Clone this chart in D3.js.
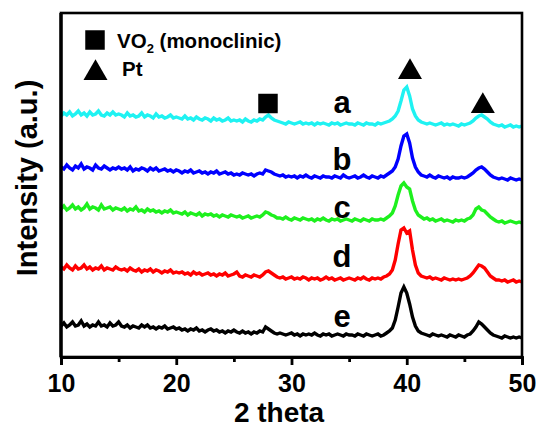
<!DOCTYPE html>
<html>
<head>
<meta charset="utf-8">
<script src="https://cdn.jsdelivr.net/npm/d3@7.9.0/dist/d3.min.js"></script>
<style>
  body { margin: 0; background: #fff; }
  svg text { font-family: "Liberation Sans", Arial, sans-serif; font-weight: bold; }
</style>
</head>
<body>
<svg id="chart" width="538" height="427"></svg>
<script>
// ─── DATA ────────────────────────────────────────────────────────────────────
// 2θ grid: 10 → 50 in 0.25° steps (161 points)
const twoTheta = d3.range(161).map(i => 10 + i * 0.25);

const seriesNames  = ['a', 'b', 'c', 'd', 'e'];
const seriesColors = ['#1ff2f2', '#0000ff', '#1ef01e', '#ff0000', '#000000'];
// vertical offset (a.u.) of each stacked pattern
const seriesOffsets = [230, 177, 134, 75, 19];

// intensity above each pattern's own baseline (a.u.)
const intA = [
  11,14,12,15,11,13,16,12,14,11,15,12,13,16,12,11,14,12,15,12,13,
  12,10,14,11,12,10,11,14,10,12,11,9,13,10,11,9,10,12,9,10,
  9,8,11,8,9,7,10,8,7,9,8,6,9,7,8,6,7,9,6,7,
  6,7,5,8,6,5,7,6,8,7,
  10,12,9,7,6,
  5,4,3,5,4,3,4,5,3,4,3,4,2,4,3,4,3,2,4,3,4,2,3,4,3,
  3,2,4,3,2,4,3,3,2,4,3,4,5,6,8,
  11,16,26,37,40,31,18,11,7,5,
  4,3,4,3,2,3,4,2,3,2,3,2,1,3,2,
  3,4,6,9,11,12,10,8,5,3,2,
  1,2,0,1,2,0,1,0,1
];
const intB = [
  13,11,15,12,10,14,12,16,11,13,12,10,15,12,11,14,12,10,12,11,13,
  11,12,10,13,9,11,10,12,11,9,12,10,12,9,10,11,9,10,8,10,
  9,7,9,8,10,7,8,9,7,8,6,8,7,9,6,7,8,6,7,5,
  6,5,7,6,5,6,4,6,7,6,
  10,9,8,6,5,
  4,5,3,4,3,4,2,4,3,5,3,2,4,3,2,4,3,3,2,4,3,2,5,3,2,
  3,4,2,3,5,3,2,4,3,2,4,3,5,7,9,
  13,21,34,44,46,37,22,13,8,5,
  4,3,5,3,2,4,3,2,3,1,3,2,2,3,2,
  3,5,7,10,12,13,11,8,5,3,2,
  1,2,1,0,2,1,0,1,0
];
const intC = [
  14,17,13,15,18,14,16,13,15,19,14,16,15,13,18,14,15,16,13,15,14,
  13,15,12,14,13,16,12,13,11,14,12,13,11,12,10,12,11,13,10,11,
  10,9,11,8,10,9,8,10,7,9,8,9,7,8,6,8,7,6,8,7,
  6,7,5,6,7,5,6,7,6,8,
  11,10,8,7,5,
  5,4,6,4,3,5,4,3,5,4,3,4,2,4,3,5,3,2,4,3,4,2,3,4,3,
  2,4,3,2,4,3,2,4,3,3,4,3,5,7,10,
  17,28,37,40,36,34,22,13,8,6,
  4,5,3,4,2,3,4,2,3,2,1,3,2,3,2,
  4,5,8,14,16,13,12,9,6,4,2,
  1,2,0,1,2,1,0,1,0
];
const intD = [
  15,13,17,14,12,16,13,14,17,13,15,12,14,13,16,12,14,13,12,15,13,
  12,13,11,14,12,11,13,10,12,11,13,10,12,11,9,11,10,12,9,10,
  9,10,8,9,7,10,8,9,7,8,9,7,8,6,8,7,9,6,7,8,
  10,6,5,7,6,5,7,6,5,7,
  10,11,9,7,5,
  4,5,3,4,5,3,4,3,5,4,2,4,3,4,2,3,5,3,4,2,3,4,2,3,4,
  3,2,4,3,5,3,2,4,3,4,3,5,6,8,12,
  22,38,52,54,49,51,32,17,9,6,
  5,4,5,3,4,3,2,4,3,2,3,2,3,2,3,
  4,6,9,13,17,16,14,10,6,4,2,
  2,1,2,0,1,2,0,1,0
];
const intE = [
  12,15,11,13,16,12,13,17,12,14,11,13,12,16,12,13,11,15,12,13,16,
  12,11,13,10,12,11,10,13,11,13,10,11,9,11,10,12,9,10,11,9,
  10,8,9,7,9,8,10,7,8,6,8,9,7,8,6,7,5,7,6,8,
  6,5,7,5,6,4,6,5,7,6,
  11,9,7,5,4,
  5,4,3,4,5,3,4,2,4,3,4,3,5,3,2,4,3,4,2,3,4,3,2,4,3,
  3,2,4,3,2,4,3,2,3,4,2,3,5,7,10,
  18,31,45,51,45,34,21,12,7,5,
  4,3,2,4,3,2,3,2,1,3,2,1,3,2,1,
  3,4,7,11,16,14,11,8,5,3,2,
  1,0,2,1,0,1,0,1,0
];
const intensities = [intA, intB, intC, intD, intE];

// phase markers drawn above pattern a (2θ, a.u.)
const markerTypes = ['square', 'triangle', 'triangle'];
const markerX     = [27.96, 40.28, 46.6];
const markerY     = [253.5, 285, 251];

const xTicks      = [10, 20, 30, 40, 50];
const xMinorTicks = [15, 25, 35, 45];

// ─── LAYOUT ──────────────────────────────────────────────────────────────────
const svg = d3.select('#chart');
const plotLeft = 61, plotRight = 522, plotTop = 13, plotBottom = 357;

const x = d3.scaleLinear().domain([10, 50]).range([plotLeft, plotRight]);
const y = d3.scaleLinear().domain([0, 344]).range([plotBottom, plotTop]);

// ─── TRACES ──────────────────────────────────────────────────────────────────
const line = d3.line()
  .x((d, i) => x(twoTheta[i]))
  .y(d => y(d));

seriesNames.forEach((name, k) => {
  const vals = intensities[k].map(v => v + seriesOffsets[k]);
  svg.append('path')
    .datum(vals)
    .attr('fill', 'none')
    .attr('stroke', seriesColors[k])
    .attr('stroke-width', 3.4)
    .attr('stroke-linejoin', 'miter')
    .attr('d', line);
});

// series letters
const labelBase = [113, 170, 218, 267, 327];
seriesNames.forEach((name, k) => {
  svg.append('text')
    .attr('x', 342).attr('y', labelBase[k])
    .attr('text-anchor', 'middle')
    .style('font-size', '31px')
    .text(name);
});

// ─── MARKERS ─────────────────────────────────────────────────────────────────
const sq = d3.symbol().type(d3.symbolSquare).size(380);
const tri = d3.symbol().type(d3.symbolTriangle).size(250);
markerTypes.forEach((t, i) => {
  svg.append('path')
    .attr('transform', `translate(${x(markerX[i])},${y(markerY[i])})`)
    .attr('d', t === 'square' ? sq() : tri())
    .attr('fill', '#000');
});

// legend
svg.append('path').attr('transform', 'translate(95,40)').attr('d', sq()).attr('fill', '#000');
svg.append('path').attr('transform', 'translate(95.5,73)').attr('d', tri()).attr('fill', '#000');
const vo2 = svg.append('text').attr('x', 117).attr('y', 48).style('font-size', '20.5px');
vo2.append('tspan').text('VO');
vo2.append('tspan').attr('dy', 5).style('font-size', '13px').text('2');
vo2.append('tspan').attr('dy', -5).text(' (monoclinic)');
svg.append('text').attr('x', 122).attr('y', 76).style('font-size', '20.5px').text('Pt');

// ─── FRAME & AXES ────────────────────────────────────────────────────────────
svg.append('rect')
  .attr('x', plotLeft).attr('y', plotTop)
  .attr('width', plotRight - plotLeft).attr('height', plotBottom - plotTop)
  .attr('fill', 'none').attr('stroke', '#000').attr('stroke-width', 2.6);
svg.append('line')
  .attr('x1', plotLeft).attr('x2', plotLeft).attr('y1', plotTop).attr('y2', plotBottom)
  .attr('stroke', '#000').attr('stroke-width', 3.4);

const xAxis = svg.append('g')
  .attr('transform', `translate(0,${plotBottom})`)
  .call(d3.axisBottom(x).tickValues(xTicks).tickSize(8).tickFormat(d3.format('d')));
xAxis.select('.domain').attr('stroke-width', 2.8);
xAxis.selectAll('.tick line').attr('stroke-width', 2.8);
xAxis.selectAll('.tick text')
  .attr('dy', '0.95em')
  .attr('y', 11)
  .style('font-size', '25px')
  .style('font-family', '"Liberation Sans", Arial, sans-serif')
  .style('font-weight', 'bold');

svg.append('g')
  .attr('transform', `translate(0,${plotBottom})`)
  .call(d3.axisBottom(x).tickValues(xMinorTicks).tickSize(5).tickFormat(''))
  .call(g => g.select('.domain').remove())
  .selectAll('.tick line').attr('stroke-width', 2.8);

svg.append('text')
  .attr('x', 279).attr('y', 422)
  .attr('text-anchor', 'middle')
  .style('font-size', '28px')
  .text('2 theta');

svg.append('text')
  .attr('transform', 'translate(37,178) rotate(-90)')
  .attr('text-anchor', 'middle')
  .style('font-size', '29px')
  .text('Intensity (a.u.)');
</script>
</body>
</html>
